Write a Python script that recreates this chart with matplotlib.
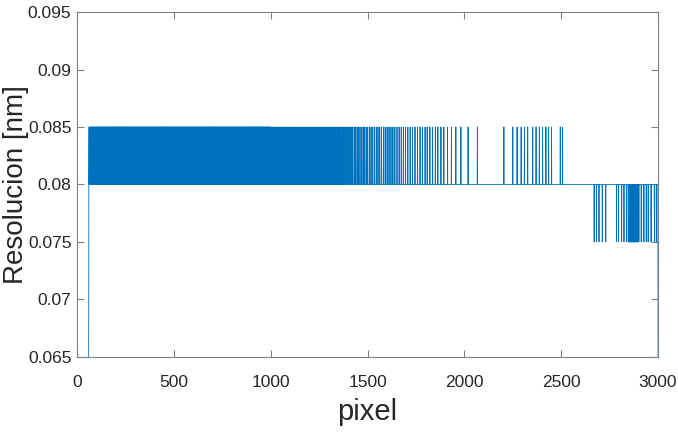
import numpy as np
import matplotlib.pyplot as plt

# resolution per detector pixel
first_pixel = 60
last_pixel = 3000
base_level = 0.08
high_level = 0.085
low_level = 0.075
end_level = 0.064

# stretch where the value flips between 0.08 and 0.085 on every pixel
dense_high_bands = [(62, 1000)]

# single pixels at 0.085 further right
high_spikes = [1004, 1009, 1013, 1018, 1022, 1027, 1031, 1036, 1041, 1045, 1050, 1054,
               1059, 1063, 1068, 1073, 1077, 1082, 1087, 1091, 1096, 1101, 1105, 1110,
               1115, 1120, 1124, 1129, 1134, 1139, 1144, 1148, 1153, 1158, 1163, 1168,
               1173, 1178, 1183, 1188, 1193, 1198, 1203, 1208, 1213, 1219, 1224, 1229,
               1234, 1240, 1245, 1250, 1256, 1261, 1267, 1272, 1278, 1283, 1289, 1295,
               1300, 1306, 1312, 1318, 1324, 1330, 1336, 1342, 1348, 1355, 1361, 1368,
               1374, 1381, 1388, 1395, 1402, 1409, 1416, 1423, 1431, 1438, 1446, 1453,
               1461, 1469, 1477, 1485, 1493, 1501, 1510, 1518, 1527, 1536, 1545, 1554,
               1563, 1572, 1582, 1591, 1601, 1611, 1621, 1631, 1641, 1652, 1663, 1674,
               1685, 1696, 1708, 1720, 1732, 1745, 1758, 1771, 1783, 1797, 1808, 1822,
               1836, 1850, 1863, 1879, 1894, 1913, 1933, 1956, 1982, 2019, 2067, 2204,
               2250, 2272, 2293, 2310, 2327, 2353, 2370, 2387, 2404, 2421, 2435, 2450,
               2495, 2507]

# stretch near the end flipping between 0.08 and 0.075
dense_low_bands = [(2846, 2897)]
low_spikes = [2670, 2682, 2695, 2712, 2730, 2786, 2796, 2812, 2824, 2837,
              2901, 2913, 2927, 2939, 2949, 2964, 2981, 2991]

x_ticks = [0, 500, 1000, 1500, 2000, 2500, 3000]
y_ticks = [0.065, 0.07, 0.075, 0.08, 0.085, 0.09, 0.095]
y_tick_labels = ['0.065', '0.07', '0.075', '0.08', '0.085', '0.09', '0.095']


def build_signal():
    px = np.arange(first_pixel, last_pixel + 1)
    res = np.full(px.shape, base_level)
    for a, b in dense_high_bands:
        sel = (px >= a) & (px <= b) & ((px - a) % 2 == 0)
        res[sel] = high_level
    for a, b in dense_low_bands:
        sel = (px >= a) & (px <= b) & ((px - a) % 2 == 0)
        res[sel] = low_level
    res[np.isin(px, high_spikes)] = high_level
    res[np.isin(px, low_spikes)] = low_level
    res[0] = end_level
    res[-1] = end_level
    return px, res


px, res = build_signal()

font = ['Liberation Sans', 'DejaVu Sans']
tick_col = '#262626'
axis_col = '#808080'

fig = plt.figure(figsize=(6.78, 4.34), dpi=100)
ax = fig.add_axes([0.1136, 0.178, 0.857, 0.794])
ax.plot(px, res, color='#0072BD', linewidth=0.6)

ax.set_xlim(0, 3000)
ax.set_ylim(0.065, 0.095)
ax.set_xticks(x_ticks)
ax.set_yticks(y_ticks)
ax.set_yticklabels(y_tick_labels)
for lab in ax.get_xticklabels() + ax.get_yticklabels():
    lab.set_family(font)
    lab.set_fontsize(12.5)
    lab.set_color(tick_col)

ax.tick_params(direction='in', length=5, width=0.8, color=axis_col,
               top=True, right=True)
ax.tick_params(axis='x', pad=13)
ax.tick_params(axis='y', pad=4)
for sp in ax.spines.values():
    sp.set_color(axis_col)
    sp.set_linewidth(0.8)

ax.set_xlabel('pixel', family=font, fontsize=21, color=tick_col, labelpad=6)
ax.set_ylabel('Resolucion [nm]', family=font, fontsize=20, color=tick_col)
ax.yaxis.set_label_coords(-0.082, 0.5)

fig.savefig('out.png', dpi=100)
